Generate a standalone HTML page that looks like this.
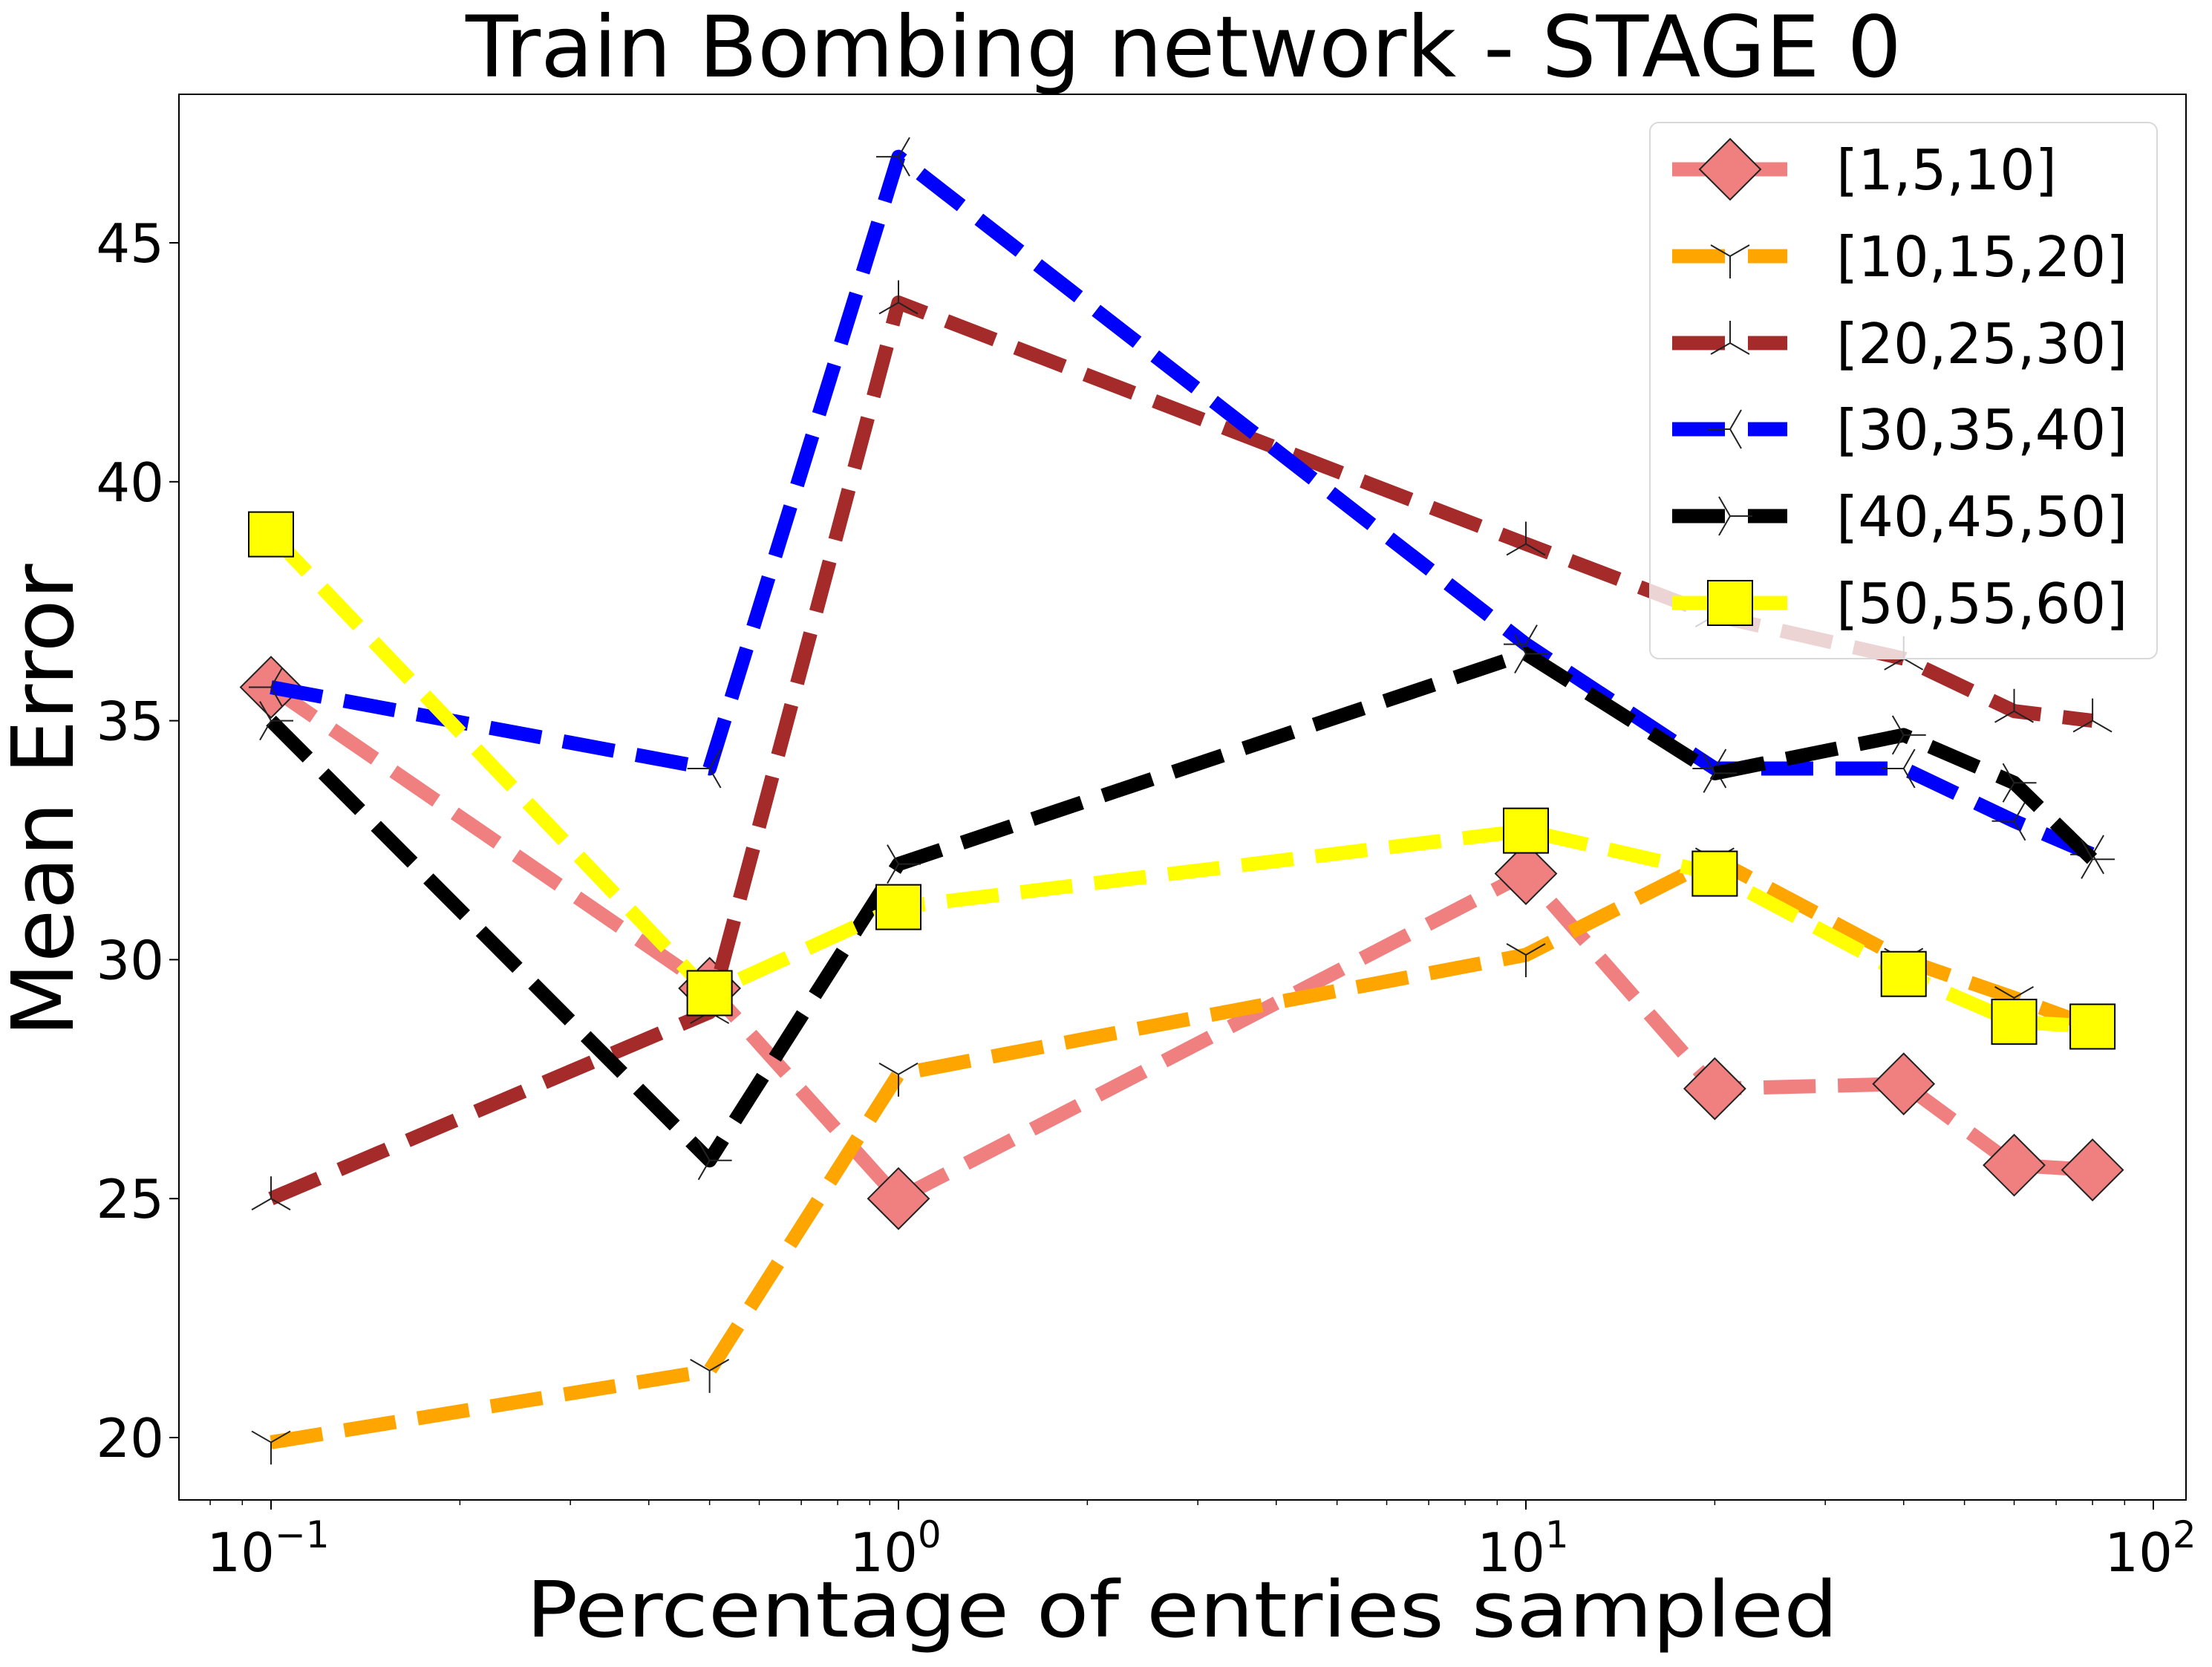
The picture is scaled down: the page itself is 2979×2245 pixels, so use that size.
<!DOCTYPE html>
<html><head><meta charset="utf-8"><style>
html,body{margin:0;padding:0;background:#fff;}
svg{display:block;font-family:"DejaVu Sans","Liberation Sans",sans-serif;}
</style></head><body>
<svg id="chart" width="2979" height="2245" viewBox="0 0 2979 2245" xmlns="http://www.w3.org/2000/svg">
<rect x="0" y="0" width="2979" height="2245" fill="#fff"/>
<text x="1594" y="103" font-size="114" text-anchor="middle" textLength="1934" lengthAdjust="spacingAndGlyphs">Train Bombing network - STAGE 0</text>
<text x="1592" y="2204" font-size="104" text-anchor="middle" textLength="1767" lengthAdjust="spacingAndGlyphs">Percentage of entries sampled</text>
<text transform="translate(98,1078) rotate(-90)" font-size="115" text-anchor="middle" textLength="637" lengthAdjust="spacingAndGlyphs">Mean Error</text>
<g id="axes"></g>
<g id="series"></g>
<g id="legend"></g>
</svg>
<script>
const xValues = [0.1, 0.5, 1, 10, 20, 40, 60, 80];
const seriesLabels = ["[1,5,10]", "[10,15,20]", "[20,25,30]", "[30,35,40]", "[40,45,50]", "[50,55,60]"];
const s1 = [35.7, 29.4, 25.0, 31.8, 27.3, 27.4, 25.7, 25.6];
const s2 = [19.9, 21.4, 27.6, 30.1, 32.1, 30.0, 29.2, 28.6];
const s3 = [25.0, 28.9, 43.75, 38.7, 37.2, 36.3, 35.2, 35.0];
const s4 = [35.7, 34.0, 46.8, 36.6, 34.0, 34.0, 32.9, 32.2];
const s5 = [35.0, 25.8, 32.0, 36.4, 33.9, 34.7, 33.7, 32.1];
const s6 = [38.9, 29.3, 31.1, 32.7, 31.8, 29.7, 28.7, 28.6];
const yTicks = [20, 25, 30, 35, 40, 45];
const xTickExps = [-1, 0, 1, 2];

const NS = "http://www.w3.org/2000/svg";
const L = 241, R = 2944, T = 127, B = 2020;
function xs(v){ return 365 + (Math.log10(v) + 1) * 845; }
function ys(v){ return 327 + (45 - v) * 64.36; }
function mk(tag, attrs, parent){
  const e = document.createElementNS(NS, tag);
  for (const k in attrs) e.setAttribute(k, attrs[k]);
  parent.appendChild(e);
  return e;
}
const axes = document.getElementById('axes');
const frame = mk('rect', {x:L, y:T, width:R-L, height:B-T, fill:'none', stroke:'#000', 'stroke-width':2}, axes);


yTicks.forEach(t => {
  const y = ys(t);
  const tk = mk('line', {x1:L-13, x2:L, y1:y, y2:y, stroke:'#000', 'stroke-width':2}, axes);
  
  
  const tx = mk('text', {x:L-20, y:y+26, 'font-size':72, 'text-anchor':'end'}, axes);
  tx.textContent = t;
  
  
});
xTickExps.forEach(e => {
  const x = xs(Math.pow(10, e));
  const tk = mk('line', {x1:x, x2:x, y1:B, y2:B+13, stroke:'#000', 'stroke-width':2}, axes);
  
  
  const tx = mk('text', {x:x-4, y:B+96, 'font-size':72, 'text-anchor':'middle'}, axes);
  
  
  const base = mk('tspan', {}, tx); base.textContent = '10';
  const sup = mk('tspan', {dy:-32, 'font-size':50}, tx); sup.textContent = e < 0 ? '\u2212' + (-e) : String(e);
  if (e < 2) {
    for (let m = 2; m <= 9; m++) {
      const mx = xs(m * Math.pow(10, e));
      const mt = mk('line', {x1:mx, x2:mx, y1:B, y2:B+7, stroke:'#000', 'stroke-width':1.5}, axes);
      
      
    }
  }
});
for (let m = 7; m <= 9; m++) {
  const mx = xs(m * 0.01);
  if (mx > L) {
    const mt = mk('line', {x1:mx, x2:mx, y1:B, y2:B+7, stroke:'#000', 'stroke-width':1.5}, axes);
    
    
  }
}

const allSeries = [s1, s2, s3, s4, s5, s6];
const colors = ['#f08080', '#ffa500', '#a52a2a', '#0000ff', '#000000', '#ffff00'];
const markers = ['diamond', 'tri_down', 'tri_up', 'tri_left', 'tri_right', 'square'];
function drawMarker(g, type, x, y, color){
  let el;
  if (type === 'diamond') {
    el = mk('polygon', {points:`${x},${y-41} ${x+41},${y} ${x},${y+41} ${x-41},${y}`, fill:color, stroke:'#222', 'stroke-width':2}, g);
  } else if (type === 'square') {
    el = mk('rect', {x:x-30, y:y-30, width:60, height:60, fill:color, stroke:'#000', 'stroke-width':2}, g);
  } else {
    const rot = {tri_down:0, tri_up:180, tri_left:90, tri_right:-90}[type];
    const r = 30;
    const d = `M0,0 L0,${r} M0,0 L${-r*0.866},${-r*0.5} M0,0 L${r*0.866},${-r*0.5}`;
    el = mk('path', {d:d, transform:`translate(${x},${y}) rotate(${rot})`, fill:'none', stroke:'#222', 'stroke-width':2}, g);
  }
  return el;
}
const sg = document.getElementById('series');
allSeries.forEach((vals, i) => {
  const g = mk('g', {}, sg);
  
  
  const pts = vals.map((v, j) => xs(xValues[j]) + ',' + ys(v)).join(' ');
  const line = mk('polyline', {points:pts, fill:'none', stroke:colors[i], 'stroke-width':19, 'stroke-dasharray':'70 30', 'stroke-linejoin':'round'}, g);
  
  
  vals.forEach((v, j) => {
    const m = drawMarker(g, markers[i], xs(xValues[j]), ys(v), colors[i]);
    
    
  });
});

const lg = document.getElementById('legend');


mk('rect', {x:2222, y:165, width:683, height:722, rx:12, fill:'rgba(255,255,255,0.8)', stroke:'#d9d9d9', 'stroke-width':2}, lg);
const legendYs = [228, 345, 462, 578, 695, 812];
seriesLabels.forEach((lab, i) => {
  const y = legendYs[i];
  const e = mk('g', {}, lg);
  
  
  mk('line', {x1:2252, x2:2407, y1:y, y2:y, stroke:colors[i], 'stroke-width':19, 'stroke-dasharray':'71 31'}, e);
  drawMarker(e, markers[i], 2330, y, colors[i]);
  const t = mk('text', {x:2473, y:y+27, 'font-size':75}, e);
  t.textContent = lab;
});
</script>
</body></html>
